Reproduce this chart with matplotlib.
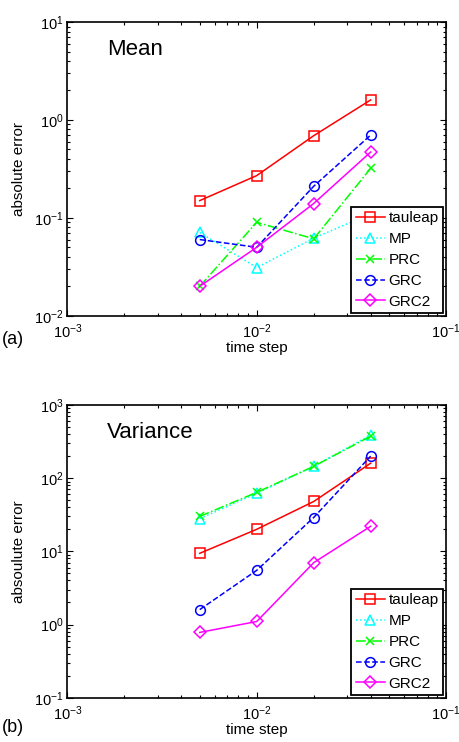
import matplotlib
matplotlib.use('Agg')
import matplotlib.pyplot as plt
from matplotlib.ticker import LogLocator, NullFormatter

plt.rcParams['font.family'] = ['Liberation Sans', 'DejaVu Sans']
plt.rcParams['mathtext.fontset'] = 'custom'
plt.rcParams['mathtext.rm'] = 'Liberation Sans'
plt.rcParams['mathtext.it'] = 'Liberation Sans:italic'
plt.rcParams['mathtext.bf'] = 'Liberation Sans:bold'

# time steps
dt = [0.005, 0.01, 0.02, 0.04]

# (a) mean absolute error
mean_tauleap = [0.15, 0.27, 0.69, 1.6]
mean_mp = [0.071, 0.031, 0.062, 0.11]
mean_prc = [0.020, 0.090, 0.061, 0.32]
mean_grc = [0.060, 0.050, 0.21, 0.70]
mean_grc2 = [0.020, 0.050, 0.14, 0.47]

# (b) variance absolute error
var_tauleap = [9.4, 20, 48, 160]
var_mp = [28, 62, 145, 390]
var_prc = [30, 64, 145, 375]
var_grc = [1.6, 5.5, 29, 200]
var_grc2 = [0.78, 1.1, 7.0, 22]

labels = ['tauleap', 'MP', 'PRC', 'GRC', 'GRC2']
styles = [
    dict(color=(1, 0, 0), ls='-', marker='s', ms=7),
    dict(color=(0, 1, 1), ls=':', marker='^', ms=7.5),
    dict(color=(0, 1, 0), ls='-.', marker='x', ms=5.5),
    dict(color=(0, 0, 1), ls='--', marker='o', ms=7),
    dict(color=(1, 0, 1), ls='-', marker='D', ms=6),
]


def draw_panel(ax, series, ylim, title, ylabel):
    for vals, lab, st in zip(series, labels, styles):
        ax.plot(dt, vals, color=st['color'], ls=st['ls'], marker=st['marker'],
                mfc='none', mec=st['color'], ms=st['ms'], mew=1.1, lw=1.1,
                label=lab)
    ax.set_xscale('log')
    ax.set_yscale('log')
    ax.set_xlim(1e-3, 1e-1)
    ax.set_ylim(*ylim)
    ax.xaxis.set_major_locator(LogLocator(base=10, numticks=10))
    ax.xaxis.set_minor_locator(LogLocator(base=10, subs=range(2, 10), numticks=20))
    ax.yaxis.set_minor_locator(LogLocator(base=10, subs=range(2, 10), numticks=20))
    ax.xaxis.set_minor_formatter(NullFormatter())
    ax.yaxis.set_minor_formatter(NullFormatter())
    ax.tick_params(which='both', direction='in', top=True, right=True,
                   labelsize=10.5, width=0.8)
    ax.tick_params(which='major', length=4)
    ax.tick_params(which='minor', length=2.5)
    ax.tick_params(axis='x', pad=5)
    ax.tick_params(axis='y', pad=3)
    for sp in ax.spines.values():
        sp.set_linewidth(1.2)
    ax.set_xlabel('time step', fontsize=11, labelpad=0)
    ax.set_ylabel(ylabel, fontsize=11)
    ax.yaxis.set_label_coords(-0.11, 0.5)
    ax.text(0.104, 0.905, title, transform=ax.transAxes, fontsize=16,
            va='center', ha='left')
    leg = ax.legend(loc='lower right', bbox_to_anchor=(0.993, 0.008),
                    fontsize=11, fancybox=False, edgecolor='black',
                    framealpha=1, borderpad=0.3, labelspacing=0.45,
                    handlelength=1.9, handletextpad=0.25, borderaxespad=0)
    leg.get_frame().set_linewidth(1.3)


fig = plt.figure(figsize=(4.59, 7.42), dpi=100)
ax1 = fig.add_axes([0.147, 0.5745, 0.8246, 0.3958])
ax2 = fig.add_axes([0.147, 0.0597, 0.8246, 0.3945])

draw_panel(ax1, [mean_tauleap, mean_mp, mean_prc, mean_grc, mean_grc2],
           (1e-2, 1e1), 'Mean', 'absolute error')
draw_panel(ax2, [var_tauleap, var_mp, var_prc, var_grc, var_grc2],
           (1e-1, 1e3), 'Variance', 'absoulute error')

fig.text(0.004, 1 - 340 / 742, '(a)', fontsize=13, va='center', ha='left')
fig.text(0.004, 1 - 727 / 742, '(b)', fontsize=13, va='center', ha='left')

fig.savefig('out.png', dpi=100)
